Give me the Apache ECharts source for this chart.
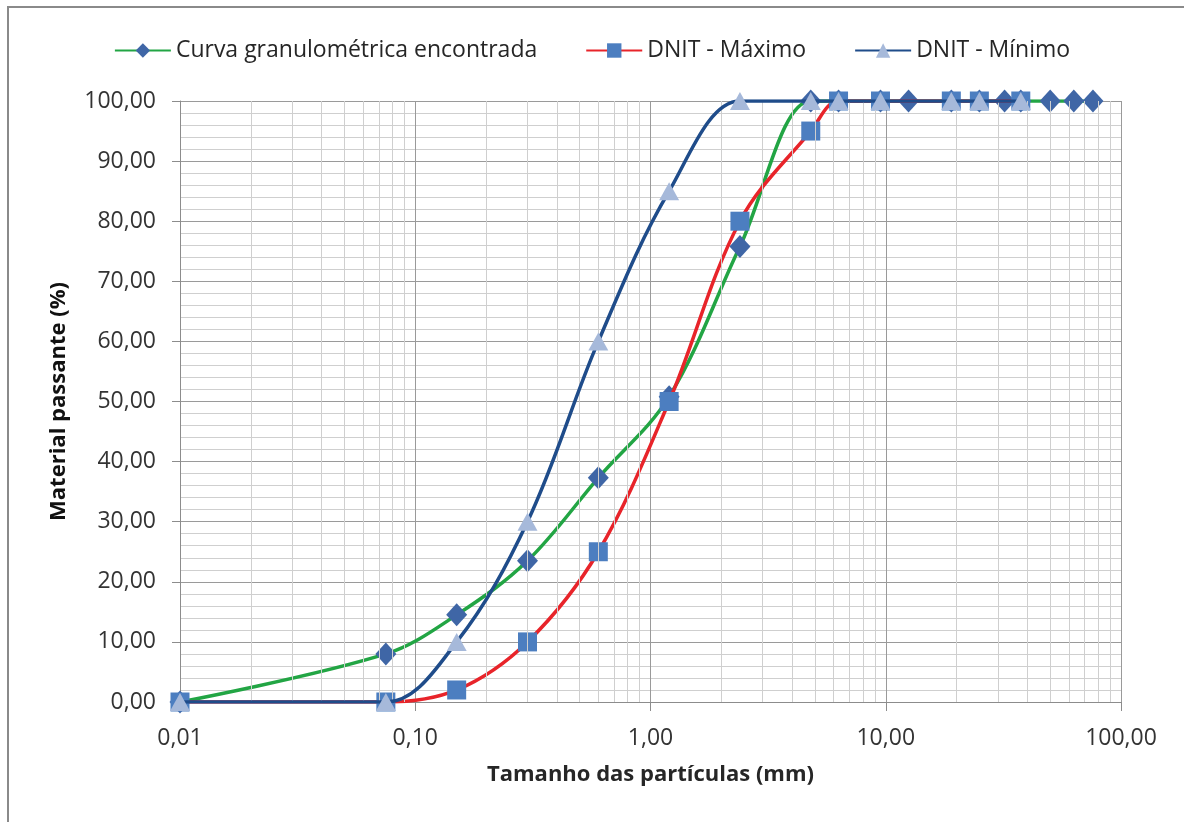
<!DOCTYPE html>
<html>
<head>
<meta charset="utf-8">
<script src="https://cdn.jsdelivr.net/npm/echarts@6/dist/echarts.min.js"></script>
<style>
  html, body { margin: 0; padding: 0; background: #fff; }
  #frame { position: absolute; left: 7px; top: 6px; width: 1177px; height: 816px;
           border-top: 2px solid #8a8a8a; border-left: 2px solid #8a8a8a; box-sizing: border-box; }
  #chart { position: absolute; left: 0; top: 0; width: 1184px; height: 822px; }
</style>
</head>
<body>
<div id="frame"></div>
<div id="chart"></div>
<script>
// Sieve openings (mm)
const sieves = [0.01, 0.075, 0.15, 0.3, 0.6, 1.2, 2.4, 4.8, 6.3, 9.5, 12.5, 19, 25, 32, 37.5, 50, 63, 76];
// Percent passing for the measured grading curve
const curvaValues = [0, 8, 14.5, 23.5, 37.3, 50.8, 75.8, 100, 100, 100, 100, 100, 100, 100, 100, 100, 100, 100];

// DNIT grading band limits
const dnitSieves = [0.01, 0.075, 0.15, 0.3, 0.6, 1.2, 2.4, 4.8, 6.3, 9.5, 19, 25, 37.5];
const dnitMaxValues = [0, 0, 2, 10, 25, 50, 80, 95, 100, 100, 100, 100, 100];
const dnitMinValues = [0, 0, 10, 30, 60, 85, 100, 100, 100, 100, 100, 100, 100];

const seriesNames = ['Curva granulométrica encontrada', 'DNIT - Máximo', 'DNIT - Mínimo'];

// Minor log gridlines: 2..9 within each decade
const minorGrid = [];
for (let d = 0.01; d < 100; d *= 10) {
  for (let k = 2; k <= 9; k++) minorGrid.push(+(k * d).toPrecision(3));
}

const pair = (xs, ys) => xs.map((x, i) => [x, ys[i]]);
const fmt = v => Number(v).toFixed(2).replace('.', ',');
const FONT = '"Open Sans", Lato, sans-serif';

const chart = echarts.init(document.getElementById('chart'));
chart.setOption({
  animation: false,
  textStyle: { fontFamily: FONT },
  grid: { left: 180, right: 63, top: 101, bottom: 120 },
  legend: {
    top: 34,
    left: 'center',
    itemWidth: 56,
    itemHeight: 18,
    itemGap: 48,
    textStyle: { fontSize: 23, color: '#262626', fontFamily: FONT },
    data: seriesNames
  },
  xAxis: {
    type: 'log',
    logBase: 10,
    min: 0.01,
    max: 100,
    name: 'Tamanho das partículas (mm)',
    nameLocation: 'middle',
    nameGap: 62,
    nameTextStyle: { fontSize: 22, fontWeight: 'bold', color: '#262626' },
    axisLine: { show: true, lineStyle: { color: '#8c8c8c', width: 1 } },
    axisTick: { show: true, length: 9, lineStyle: { color: '#8c8c8c' } },
    axisLabel: { formatter: fmt, fontSize: 23, color: '#333', margin: 25 },
    splitLine: { show: true, lineStyle: { color: '#9a9a9a', width: 1 } }
  },
  yAxis: {
    type: 'value',
    min: 0,
    max: 100,
    interval: 10,
    name: 'Material passante (%)',
    nameLocation: 'middle',
    nameGap: 110,
    nameTextStyle: { fontSize: 22, fontWeight: 'bold', color: '#111' },
    axisLine: { show: true, lineStyle: { color: '#8c8c8c', width: 1 } },
    axisTick: { show: true, length: 8, lineStyle: { color: '#8c8c8c' } },
    axisLabel: { formatter: fmt, fontSize: 23, color: '#333', margin: 24 },
    splitLine: { show: true, lineStyle: { color: '#9a9a9a', width: 1 } },
    minorTick: { show: false, splitNumber: 5 },
    minorSplitLine: { show: true, lineStyle: { color: '#cfcfcf', width: 1 } }
  },
  series: [
    {
      // vertical minor gridlines
      type: 'line',
      data: [],
      silent: true,
      z: 1,
      markLine: {
        silent: true,
        symbol: 'none',
        label: { show: false },
        lineStyle: { color: '#cfcfcf', width: 1, type: 'solid' },
        emphasis: { disabled: true },
        data: minorGrid.map(v => ({ xAxis: v }))
      }
    },
    {
      name: seriesNames[0],
      type: 'line',
      data: pair(sieves, curvaValues),
      smooth: 0.35,
      z: 3,
      symbol: 'diamond',
      symbolSize: [21, 23],
      lineStyle: { color: '#22a544', width: 3.5 },
      itemStyle: { color: '#3f66a6' }
    },
    {
      name: seriesNames[1],
      type: 'line',
      data: pair(dnitSieves, dnitMaxValues),
      smooth: 0.35,
      z: 4,
      symbol: 'rect',
      symbolSize: 19,
      lineStyle: { color: '#e8242a', width: 3.5 },
      itemStyle: { color: '#4c7ec0' }
    },
    {
      name: seriesNames[2],
      type: 'line',
      data: pair(dnitSieves, dnitMinValues),
      smooth: 0.35,
      z: 5,
      symbol: 'triangle',
      symbolSize: [20, 18],
      lineStyle: { color: '#1f4c8a', width: 3.5 },
      itemStyle: { color: '#a6b9da' }
    }
  ]
});
</script>
</body>
</html>
